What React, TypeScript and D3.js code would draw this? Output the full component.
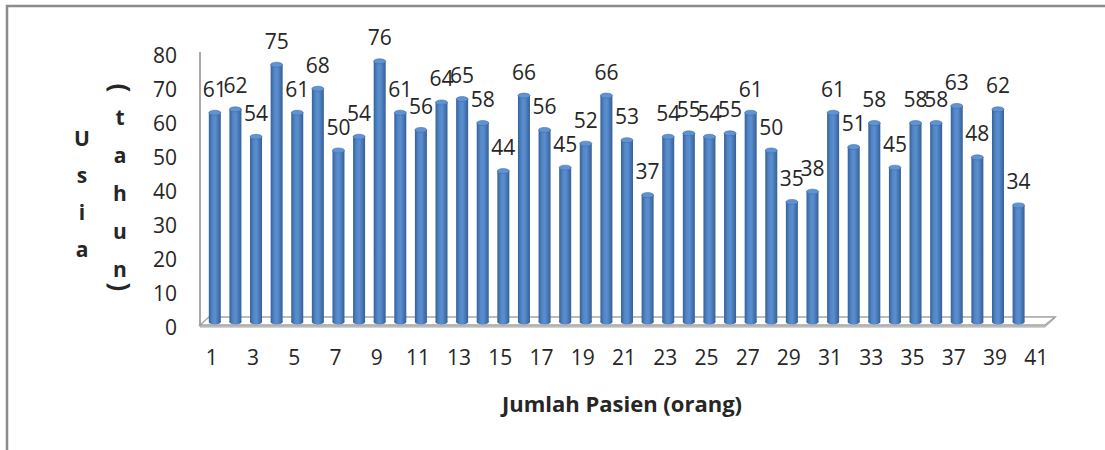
import React, { useEffect, useRef } from 'react';
import * as d3 from 'd3';

// patient number -> age (years)
const patients: number[] = d3.range(1, 42);
const ages: number[] = [
  61, 62, 54, 75, 61, 68, 50, 54, 76, 61,
  56, 64, 65, 58, 44, 66, 56, 45, 52, 66,
  53, 37, 54, 55, 54, 55, 61, 50, 35, 38,
  61, 51, 58, 45, 58, 58, 63, 48, 62, 34,
];
const yTicks: number[] = [0, 10, 20, 30, 40, 50, 60, 70, 80];
const xTickLabels: number[] = patients.filter(p => p % 2 === 1);
const yTitleA = ['U', 's', 'i', 'a'];
const yTitleB = ['(', 't', 'a', 'h', 'u', 'n', ')'];
const xTitle = 'Jumlah Pasien (orang)';

const App: React.FC = () => {
  const svgRef = useRef<SVGSVGElement>(null);

  useEffect(() => {
    if (!svgRef.current) return;
    const svg = d3.select(svgRef.current);
    svg.selectAll('*').remove();

    const font = '"Open Sans", "Liberation Sans", sans-serif';
    const textColor = '#262626';

    // 3D floor geometry (front plane vs back plane)
    const left = 200;
    const right = 1045;
    const floorFront = 325;
    const depthX = 9;
    const depthY = -8;

    const x = d3.scaleBand<number>().domain(patients).range([left, right]).paddingInner(0).paddingOuter(0);
    const bw = x.bandwidth();
    const yBar = d3.scaleLinear().domain([0, 80]).range([322, 47.6]);
    const yAxis = d3.scaleLinear().domain([0, 80]).range([327, 55]);

    const defs = svg.append('defs');
    const grad = defs.append('linearGradient').attr('id', 'barGrad')
      .attr('x1', '0%').attr('y1', '0%').attr('x2', '100%').attr('y2', '0%');
    grad.append('stop').attr('offset', '0%').attr('stop-color', '#36619a');
    grad.append('stop').attr('offset', '30%').attr('stop-color', '#5287c7');
    grad.append('stop').attr('offset', '55%').attr('stop-color', '#5a8ed0');
    grad.append('stop').attr('offset', '100%').attr('stop-color', '#355f96');

    // outer frame (right and bottom edges run off the picture)
    svg.append('rect')
      .attr('x', 7).attr('y', 6).attr('width', 1200).attr('height', 600)
      .attr('fill', '#fff').attr('stroke', '#8c8c8c').attr('stroke-width', 2.5);

    // floor slab
    svg.append('path')
      .attr('d', `M ${left} ${floorFront} L ${left} ${floorFront + 2} L ${right} ${floorFront + 2} L ${right + depthX + 1} ${floorFront + depthY + 1} L ${right + depthX + 1} ${floorFront + depthY} Z`)
      .attr('fill', '#d0d0d0').attr('stroke', '#a6a6a6').attr('stroke-width', 1);
    svg.append('path')
      .attr('d', `M ${left} ${floorFront} L ${left + depthX} ${floorFront + depthY} L ${right + depthX + 1} ${floorFront + depthY} L ${right} ${floorFront} Z`)
      .attr('fill', '#ffffff').attr('stroke', '#a6a6a6').attr('stroke-width', 1.5);

    // value axis line
    svg.append('line')
      .attr('x1', left).attr('x2', left).attr('y1', 52).attr('y2', floorFront)
      .attr('stroke', '#8c8c8c').attr('stroke-width', 1.5);

    // bars as rounded columns
    const barW = 12;
    const g = svg.append('g');
    ages.forEach((v, i) => {
      const cx = (x(patients[i]) as number) + bw / 2 + 4.5;
      const top = yBar(v);
      const base = yBar(0);
      g.append('rect')
        .attr('x', cx - barW / 2).attr('y', top)
        .attr('width', barW).attr('height', base - top)
        .attr('fill', 'url(#barGrad)');
      g.append('ellipse')
        .attr('cx', cx).attr('cy', base).attr('rx', barW / 2).attr('ry', 2.5)
        .attr('fill', 'url(#barGrad)');
      g.append('ellipse')
        .attr('cx', cx).attr('cy', top).attr('rx', barW / 2).attr('ry', 2.5)
        .attr('fill', '#5f93d3').attr('stroke', '#3f6ca6').attr('stroke-width', 0.6);
    });

    // data labels
    svg.append('g').selectAll('text').data(ages).enter().append('text')
      .attr('x', (d, i) => (x(patients[i]) as number) + bw / 2 + 4.5)
      .attr('y', d => yBar(d) - 16)
      .attr('text-anchor', 'middle')
      .attr('font-family', font).attr('font-size', 21).attr('fill', textColor)
      .text(d => d);

    // y tick labels
    svg.append('g').selectAll('text').data(yTicks).enter().append('text')
      .attr('x', 177).attr('y', d => yAxis(d)).attr('dy', '0.36em')
      .attr('text-anchor', 'end')
      .attr('font-family', font).attr('font-size', 21).attr('fill', textColor)
      .text(d => d);

    // x tick labels
    svg.append('g').selectAll('text').data(xTickLabels).enter().append('text')
      .attr('x', d => (x(d) as number) + bw / 2 + 1.5).attr('y', 365)
      .attr('text-anchor', 'middle')
      .attr('font-family', font).attr('font-size', 21).attr('fill', textColor)
      .text(d => d);

    // x title
    svg.append('text')
      .attr('x', 622).attr('y', 412)
      .attr('text-anchor', 'middle')
      .attr('font-family', font).attr('font-size', 22).attr('font-weight', 'bold').attr('fill', textColor)
      .text(xTitle);

    // stacked y title, two columns
    yTitleA.forEach((ch, i) => {
      svg.append('text')
        .attr('x', 82).attr('y', 138 + i * 37.3).attr('dy', '0.36em')
        .attr('text-anchor', 'middle')
        .attr('font-family', font).attr('font-size', 21).attr('font-weight', 'bold').attr('fill', textColor)
        .text(ch);
    });
    yTitleB.forEach((ch, i) => {
      const isParen = ch === '(' || ch === ')';
      const cy = i === 0 ? 88 : i === yTitleB.length - 1 ? 287 : 117 + (i - 1) * 38.2;
      const t = svg.append('text')
        .attr('x', 0).attr('y', 0).attr('dy', '0.36em')
        .attr('text-anchor', 'middle')
        .attr('font-family', font).attr('font-size', isParen ? 26 : 21).attr('font-weight', 'bold').attr('fill', textColor)
        .text(ch);
      t.attr('transform', `translate(120,${cy})${isParen ? ' rotate(90)' : ''}`);
    });
  }, []);

  return (
    <div style={{ position: 'absolute', left: 0, top: 0 }}>
      <svg ref={svgRef} width={1105} height={450} style={{ display: 'block', background: '#fff' }} />
    </div>
  );
};

export default App;
